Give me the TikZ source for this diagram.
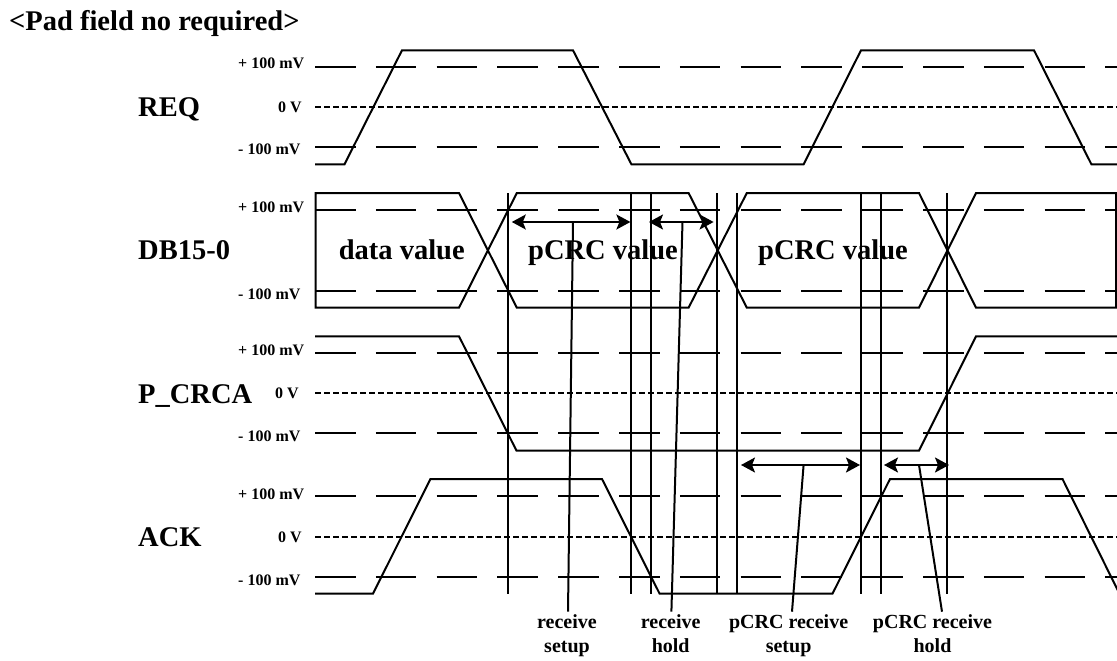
\documentclass[tikz,border=0pt]{standalone}
\usepackage{fontspec}
\setmainfont{Liberation Serif}
\usetikzlibrary{arrows.meta}
\tikzset{
  wave/.style={line width=2pt,line join=miter},
  refhi/.style={line width=2pt,dash pattern=on 40.5pt off 20.3pt},
  zero/.style={line width=2pt,dash pattern=on 6pt off 3pt},
  guide/.style={line width=2pt},
  leader/.style={line width=2pt},
  span/.style={line width=2pt,{Stealth[length=14pt,width=15pt,inset=3pt]}-{Stealth[length=14pt,width=15pt,inset=3pt]}},
  txt/.style={inner sep=0pt,anchor=base west,font=\bfseries\fontsize{28.5}{28.5}\selectfont},
  volt/.style={inner sep=0pt,anchor=base west,font=\bfseries\fontsize{16}{16}\selectfont},
  foot/.style={inner sep=0pt,anchor=base,font=\bfseries\fontsize{20}{20}\selectfont},
}
\begin{document}
\begin{tikzpicture}[x=1pt,y=-1pt]
\useasboundingbox (0,0) rectangle (1117,661);
% titles and signal names
\node[txt] (title) at (9,31) {<Pad field no required>};
\node[txt] (req) at (138,116) {REQ};
\node[txt] (db) at (138,259) {DB15-0};
\node[txt] (crc) at (138,403) {P\_CRCA};
\node[txt] (ack) at (138,546) {ACK};
\node[txt] (dv) at (338.6,259) {data value};
\node[txt] (pa) at (528,259) {pCRC value};
\node[txt] (pb) at (758,259) {pCRC value};
% voltage labels
\node[volt] (r1) at (238,69) {+ 100 mV};
\node[volt] (r2) at (278,112) {0 V};
\node[volt] (r3) at (238,154.3) {- 100 mV};
\node[volt] (d1) at (238,212) {+ 100 mV};
\node[volt] (d3) at (238,299) {- 100 mV};
\node[volt] (c1) at (238,355.3) {+ 100 mV};
\node[volt] (c2) at (275,398) {0 V};
\node[volt] (c3) at (238,441) {- 100 mV};
\node[volt] (a1) at (238,499) {+ 100 mV};
\node[volt] (a2) at (278,542) {0 V};
\node[volt] (a3) at (238,585) {- 100 mV};
% reference lines
\foreach \yy in {67.3,147,210.3,290.7,353.3,433.3,496.3,577}
  \draw[refhi] (315,\yy) -- (1117,\yy);
\foreach \yy in {107.3,393.3,536.7}
  \draw[zero] (315,\yy) -- (1117,\yy);
% waveforms
\draw[wave] (315,164.3) -- (344.5,164.3) -- (402,50.3) -- (573,50.3) -- (631.4,164.3) -- (803.6,164.3) -- (861,50.3) -- (1034,50.3) -- (1091.4,164.3) -- (1117,164.3);
\draw[wave] (459,193) -- (315.7,193) -- (315.7,307.7) -- (459,307.7) -- (516.8,193) -- (688.6,193) -- (746.8,307.7) -- (919,307.7) -- (976,193) -- (1116,193) -- (1116,307.7) -- (976,307.7) -- (919,193) -- (746.8,193) -- (688.6,307.7) -- (516.8,307.7) -- cycle;
\draw[wave] (315,336.3) -- (459,336.3) -- (516.5,450.7) -- (919,450.7) -- (976,336.3) -- (1117,336.3);
\draw[wave] (315,593.7) -- (373,593.7) -- (430.4,479) -- (602,479) -- (659.6,593.7) -- (832.5,593.7) -- (890,479) -- (1062.5,479) -- (1119.5,593.7);
% timing guides
\foreach \xx in {507.5,631.4,651,717,737,861,881,947}
  \draw[guide] (\xx,193) -- (\xx,594.3);
% spans
\coordinate (s1a) at (511.8,222); \coordinate (s1b) at (630.4,222);
\coordinate (s2a) at (649,222);   \coordinate (s2b) at (713.6,222);
\coordinate (s3a) at (741,465);   \coordinate (s3b) at (860,465);
\coordinate (s4a) at (884,465);   \coordinate (s4b) at (949,465);
\draw[span] (s1a) -- (s1b);
\draw[span] (s2a) -- (s2b);
\draw[span] (s3a) -- (s3b);
\draw[span] (s4a) -- (s4b);
% footer labels
\node[foot] (f1a) at (567,628) {receive};
\node[foot] (f1b) at (567,652) {setup};
\node[foot] (f2a) at (670.7,628) {receive};
\node[foot] (f2b) at (670.7,652) {hold};
\node[foot] (f3a) at (788.6,628) {pCRC receive};
\node[foot] (f3b) at (788.6,652) {setup};
\node[foot] (f4a) at (932.5,628) {pCRC receive};
\node[foot] (f4b) at (932.5,652) {hold};
% leaders
\coordinate (l1a) at (573,222);   \coordinate (l1b) at (568,611.7);
\coordinate (l2a) at (682.5,222); \coordinate (l2b) at (671.4,611.7);
\coordinate (l3a) at (803.6,465); \coordinate (l3b) at (792,611.7);
\coordinate (l4a) at (919,465);   \coordinate (l4b) at (942,611.7);
\draw[leader] (l1a) -- (l1b);
\draw[leader] (l2a) -- (l2b);
\draw[leader] (l3a) -- (l3b);
\draw[leader] (l4a) -- (l4b);
\end{tikzpicture}
\end{document}
